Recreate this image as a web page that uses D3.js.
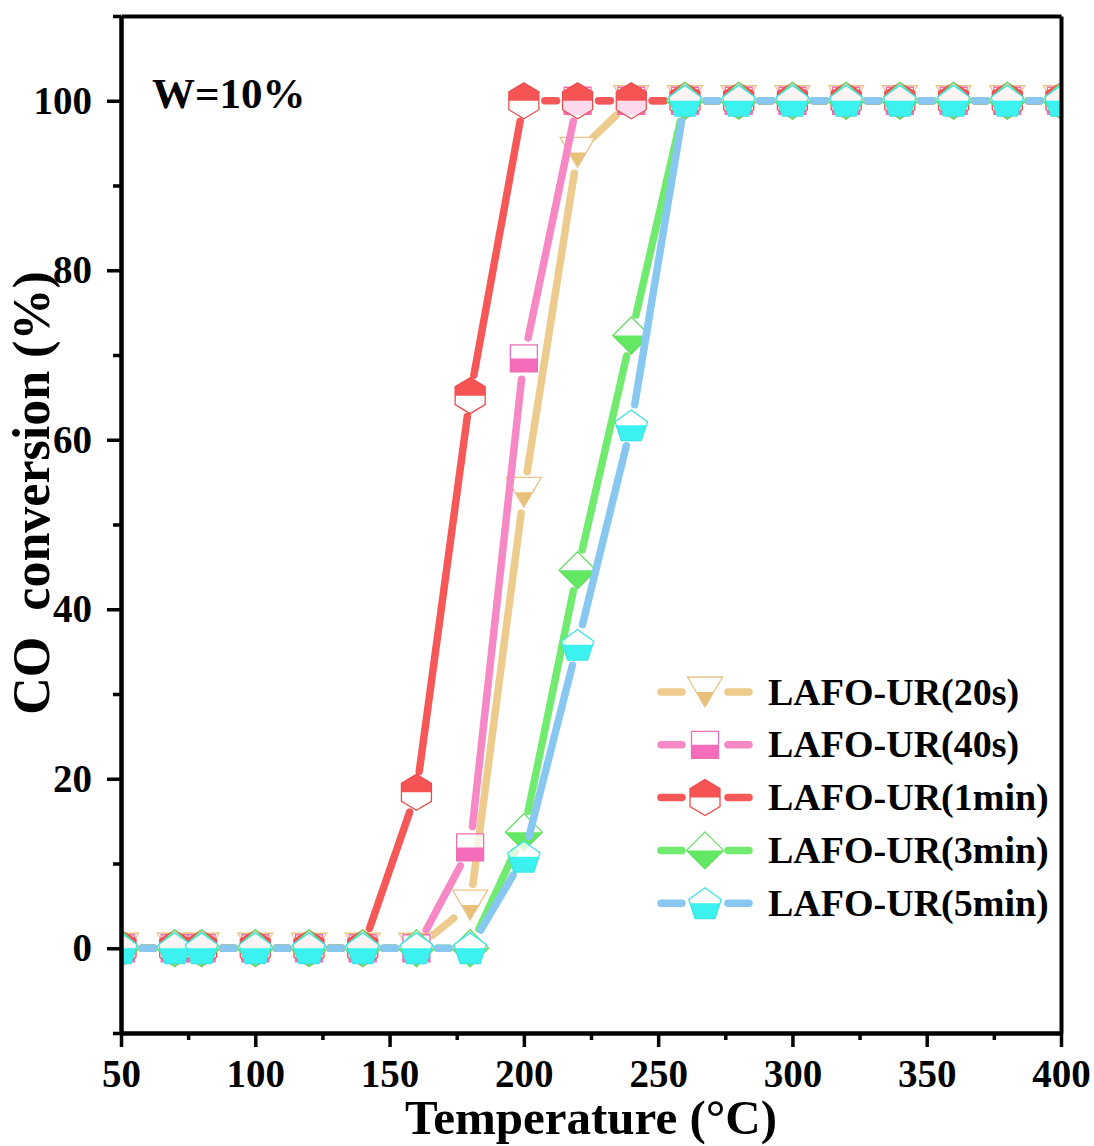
<!DOCTYPE html>
<html>
<head>
<meta charset="utf-8">
<script src="https://cdn.jsdelivr.net/npm/d3@7"></script>
<style>
  body { margin: 0; background: #fff; }
  text { font-family: "Liberation Serif", "Times New Roman", serif; font-weight: bold; fill: #000; }
</style>
</head>
<body>
<script>
// data
var temps    = [50, 70, 80, 100, 120, 140, 160, 180, 200, 220, 240, 260, 280, 300, 320, 340, 360, 380, 400];
var conv20s  = [0, 0, 0, 0, 0, 0, 0, 5.1, 53.8, 93.9, 100, 100, 100, 100, 100, 100, 100, 100, 100];
var conv40s  = [0, 0, 0, 0, 0, 0, 0, 11.9, 69.6, 100, 100, 100, 100, 100, 100, 100, 100, 100, 100];
var conv1min = [0, 0, 0, 0, 0, 0, 18.4, 65.2, 100, 100, 100, 100, 100, 100, 100, 100, 100, 100, 100];
var conv3min = [0, 0, 0, 0, 0, 0, 0, 0, 13.7, 44.6, 72.3, 100, 100, 100, 100, 100, 100, 100, 100];
var conv5min = [0, 0, 0, 0, 0, 0, 0, 0, 10.8, 35.8, 61.7, 100, 100, 100, 100, 100, 100, 100, 100];
var seriesNames = ["LAFO-UR(20s)", "LAFO-UR(40s)", "LAFO-UR(1min)", "LAFO-UR(3min)", "LAFO-UR(5min)"];
var xTicks = [50, 100, 150, 200, 250, 300, 350, 400];
var xMinor = [75, 125, 175, 225, 275, 325, 375];
var yTicks = [0, 20, 40, 60, 80, 100];
var yMinor = [-10, 10, 30, 50, 70, 90, 110];

// styles
var lineColors = ["#ECCB8C", "#F788C6", "#F65858", "#70EB70", "#88C8F0"];
var fillColors = ["#E8C07A", "#F56DBA", "#F65454", "#62E862", "#3CF2EE"];
var edgeColors = ["#E8C486", "#EE6FB4", "#EE4C4C", "#66DD66", "#3EE4E4"];
var shapes = ["triDown", "square", "hexagon", "diamond", "pentagon"];

var width = 1094, height = 1146;
var plotLeft = 121, plotRight = 1061, plotTop = 16, plotBottom = 1033;

var svg = d3.select("body")
    .append("svg")
    .attr("width", width)
    .attr("height", height);

var defs = svg.append("defs");
defs.append("clipPath").attr("id", "plotClip")
    .append("rect").attr("x", plotLeft).attr("y", plotTop)
    .attr("width", plotRight - plotLeft).attr("height", plotBottom - plotTop);
defs.append("clipPath").attr("id", "halfTop")
    .append("rect").attr("x", -30).attr("y", -30).attr("width", 60).attr("height", 30);
defs.append("clipPath").attr("id", "halfBot")
    .append("rect").attr("x", -30).attr("y", 0).attr("width", 60).attr("height", 30);

var xScale = d3.scaleLinear().domain([50, 400]).range([plotLeft, plotRight]);
var yScale = d3.scaleLinear().domain([-10, 110]).range([plotBottom, plotTop]);

// marker outlines, centred on their box
function shapePoints(name) {
    if (name == "triDown") return [[-17.5, -15], [17.5, -15], [0, 15]];
    if (name == "square") return [[-13.5, -13.5], [13.5, -13.5], [13.5, 13.5], [-13.5, 13.5]];
    if (name == "hexagon") return [[0, -18], [15, -9], [15, 9], [0, 18], [-15, 9], [-15, -9]];
    if (name == "diamond") return [[0, -18.5], [18.5, 0], [0, 18.5], [-18.5, 0]];
    // pentagon, point up
    var pts = [];
    for (var k = 0; k < 5; k++) {
        var a = (-90 + 72 * k) * Math.PI / 180;
        pts.push([17 * Math.cos(a), 17 * Math.sin(a) + 1.6]);
    }
    return pts;
}

function drawMarker(g, s, cx, cy) {
    var d = "M" + shapePoints(shapes[s]).join("L") + "Z";
    var m = g.append("g").attr("transform", "translate(" + cx + "," + cy + ")");
    m.append("path").attr("d", d).attr("fill", "#fff").attr("fill-opacity", 0.75);
    m.append("path").attr("d", d).attr("fill", fillColors[s])
        .attr("clip-path", shapes[s] == "hexagon" ? "url(#halfTop)" : "url(#halfBot)");
    m.append("path").attr("d", d).attr("fill", "none")
        .attr("stroke", edgeColors[s]).attr("stroke-width", 1.3);
}

// line pieces stop short of each marker
function drawGapLine(g, color, x0, y0, x1, y1, gap) {
    var dx = x1 - x0, dy = y1 - y0, len = Math.sqrt(dx * dx + dy * dy);
    if (len <= 2 * gap + 1) return;
    var ux = dx / len, uy = dy / len;
    g.append("line")
        .attr("x1", x0 + ux * gap).attr("y1", y0 + uy * gap)
        .attr("x2", x1 - ux * gap).attr("y2", y1 - uy * gap)
        .attr("stroke", color).attr("stroke-width", 7.5)
        .attr("stroke-linecap", "round");
}

var allSeries = [conv20s, conv40s, conv1min, conv3min, conv5min];

var plot = svg.append("g").attr("clip-path", "url(#plotClip)");
allSeries.forEach(function(vals, s) {
    var g = plot.append("g").attr("class", "series");
    for (var i = 0; i < temps.length - 1; i++) {
        drawGapLine(g, lineColors[s],
            xScale(temps[i]), yScale(vals[i]),
            xScale(temps[i + 1]), yScale(vals[i + 1]), 21);
    }
    temps.forEach(function(t, i) {
        drawMarker(g, s, xScale(t), yScale(vals[i]));
    });
});

// axes
var axisStyle = function(g, w) {
    g.select(".domain").attr("stroke", "#000").attr("stroke-width", w);
    g.selectAll(".tick line").attr("stroke", "#000").attr("stroke-width", 3.5);
    g.selectAll(".tick text").attr("font-size", 39).attr("fill", "#000");
};

svg.append("g")
    .attr("transform", "translate(0," + plotBottom + ")")
    .call(d3.axisBottom(xScale).tickValues(xMinor).tickSize(7).tickSizeOuter(0).tickFormat(""))
    .call(axisStyle, 4);
svg.append("g")
    .attr("transform", "translate(0," + plotBottom + ")")
    .call(d3.axisBottom(xScale).tickValues(xTicks).tickSize(14).tickSizeOuter(0).tickPadding(12))
    .call(axisStyle, 4);

svg.append("g")
    .attr("transform", "translate(" + plotLeft + ",0)")
    .call(d3.axisLeft(yScale).tickValues(yMinor).tickSize(8).tickSizeOuter(0).tickFormat(""))
    .call(axisStyle, 4);
svg.append("g")
    .attr("transform", "translate(" + plotLeft + ",0)")
    .call(d3.axisLeft(yScale).tickValues(yTicks).tickSize(14).tickSizeOuter(0).tickPadding(15))
    .call(axisStyle, 4);

// frame top and right
svg.append("g")
    .attr("transform", "translate(0," + plotTop + ")")
    .call(d3.axisTop(xScale).tickValues([]).tickSizeOuter(0))
    .call(axisStyle, 4);
svg.append("g")
    .attr("transform", "translate(" + plotRight + ",0)")
    .call(d3.axisRight(yScale).tickValues([]).tickSizeOuter(0))
    .call(axisStyle, 4);

// titles
svg.append("text")
    .attr("x", (plotLeft + plotRight) / 2)
    .attr("y", 1134)
    .attr("text-anchor", "middle")
    .attr("font-size", 49)
    .text("Temperature (°C)");

var yTitle = svg.append("text")
    .attr("transform", "translate(49,493) rotate(-90)")
    .attr("text-anchor", "middle")
    .attr("font-size", 52);
yTitle.append("tspan").text("CO");
yTitle.append("tspan").attr("dx", 26).text("conversion (%)");

svg.append("text")
    .attr("x", 152)
    .attr("y", 108)
    .attr("font-size", 43)
    .text("W=10%");

// legend
var legend = svg.append("g").attr("class", "legend");
seriesNames.forEach(function(name, s) {
    var cy = 692 + s * 52.8;
    var g = legend.append("g");
    g.append("line").attr("x1", 661).attr("x2", 682).attr("y1", cy).attr("y2", cy)
        .attr("stroke", lineColors[s]).attr("stroke-width", 7.5).attr("stroke-linecap", "round");
    g.append("line").attr("x1", 728).attr("x2", 749).attr("y1", cy).attr("y2", cy)
        .attr("stroke", lineColors[s]).attr("stroke-width", 7.5).attr("stroke-linecap", "round");
    drawMarker(g, s, 705, cy);
    g.append("text")
        .attr("x", 768)
        .attr("y", cy + 12.5)
        .attr("font-size", 38)
        .text(name);
});
</script>
</body>
</html>
